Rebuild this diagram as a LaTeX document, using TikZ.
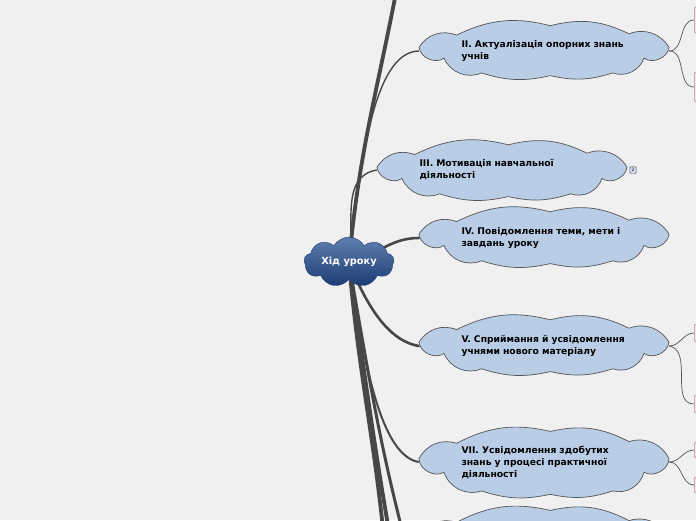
\documentclass[tikz,border=0pt]{standalone}
\usepackage{fontspec}
\setsansfont{DejaVu Sans}
\usepackage{tikz}
\usetikzlibrary{positioning, shapes.symbols, shapes.geometric, calc}
\usepackage{xcolor}

\definecolor{bggray}{HTML}{F0F0F0}
\definecolor{stageblue}{HTML}{B9CDE6}
\definecolor{edgegray}{HTML}{555555}
\definecolor{branchgray}{HTML}{474747}
\definecolor{hubtop}{HTML}{5F80AE}
\definecolor{hubbottom}{HTML}{1C3C74}
\definecolor{notefill}{HTML}{F6E7EB}
\definecolor{noteedge}{HTML}{B58896}

\tikzset{
  cloudline/.style={draw=edgegray, fill=stageblue, line width=0.7pt},
  pics/puffs/.style 2 args={code={
    \path[cloudline] (-#1,-0.1*#2) to[bend left=40] (-0.7*#1,-0.55*#2)
      to[bend left=20] (0.05*#1,-0.9*#2) to[bend left=20] (0.68*#1,-0.6*#2)
      to[bend left=40] (#1,-0.1*#2) to[bend left=60] (0.8*#1,0.3*#2)
      to[bend left=45] (0.55*#1,0.85*#2) to[bend left=15] (0.05*#1,0.95*#2)
      to[bend left=15] (-0.5*#1,0.85*#2) to[bend left=45] (-0.8*#1,0.3*#2)
      to[bend left=60] cycle;
  }},
  stage/.style={minimum width=250pt, inner sep=0pt, text width=165pt, align=left,
    font=\sffamily\bfseries\fontsize{9.2}{12}\selectfont},
  hub/.style={cloud, cloud puffs=9, cloud puff arc=120, cloud ignores aspect,
    draw=hubbottom, top color=hubtop, bottom color=hubbottom, text=white,
    minimum width=90pt, minimum height=50pt, inner sep=0pt,
    font=\sffamily\bfseries\fontsize{9.8}{11}\selectfont},
  note/.style={draw=noteedge, fill=notefill, rounded corners=2pt, line width=0.6pt,
    minimum width=40pt},
  badge/.style={draw=edgegray, fill=stageblue!70!white, rounded corners=1.5pt,
    inner sep=0.8pt, font=\sffamily\fontsize{4.5}{5}\selectfont, minimum size=7pt},
  mainline/.style={draw=branchgray, line width=3.8pt, line cap=round},
  subline/.style={draw=branchgray, line width=1.4pt},
  leafline/.style={draw=edgegray, line width=0.7pt},
}

\begin{document}
\begin{tikzpicture}[x=1pt, y=-1pt]
  \useasboundingbox (0,0) rectangle (696,520);
  \clip (0,0) rectangle (696,520);
  \fill[bggray] (0,0) rectangle (696,520);

  % off-page ends of the long branches
  \coordinate (stagei) at (402,-40);
  \coordinate (stagevi) at (386,560);
  \coordinate (stageviii) at (394,560);
  \coordinate (stageix) at (410,560);

  % clouds of the stages
  \pic at (544,50) {puffs={125}{27}};
  \pic at (502,170) {puffs={125}{28}};
  \pic at (544,237) {puffs={125}{28}};
  \pic at (544,345) {puffs={125}{28}};
  \pic at (544,462) {puffs={125}{34}};
  \pic at (544,541) {puffs={125}{34}};

  \node[stage, minimum height=54pt] (ii) at (544,51) {II. Актуалізація опорних знань учнів};
  \node[stage, minimum height=56pt] (iii) at (502,170) {III. Мотивація навчальної діяльності};
  \node[badge] (iiicount) at (633,170) {2};
  \node[stage, minimum height=56pt] (iv) at (544,238) {IV. Повідомлення теми, мети і завдань уроку};
  \node[stage, minimum height=56pt] (v) at (544,346) {V. Сприймання й усвідомлення учнями нового матеріалу};
  \node[stage, minimum height=68pt] (vii) at (544,462) {VII. Усвідомлення здобутих знань у процесі практичної діяльності};
  \node[stage, minimum height=68pt] (viii) at (544,541) {};

  % branches from the centre
  \coordinate (hubc) at (349,263);
  \draw[mainline] (hubc) to[out=85, in=-100] (stagei);
  \draw[subline] (hubc) .. controls (362,140) and (378,52) .. (ii.west);
  \draw[subline] (hubc) to[out=80, in=190] (iii.west);
  \draw[mainline, line width=2.6pt] (hubc) to[out=15, in=180] (iv.west);
  \draw[mainline, line width=2.6pt] (hubc) .. controls (365,300) and (385,340) .. (v.west);
  \draw[subline, line width=2pt] (hubc) .. controls (360,330) and (375,455) .. (vii.west);
  \draw[mainline] (hubc) to[out=-85, in=95] (stagevi);
  \draw[mainline] (hubc) to[out=-82, in=100] (stageviii);
  \draw[mainline, line width=3pt] (hubc) to[out=-80, in=105] (stageix);

  \node[hub] (hub) at (349,262) {Хід уроку};

  % notes on the right edge
  \node[note, minimum height=26pt, anchor=west] (iia) at (694,20) {};
  \node[note, minimum height=30pt, anchor=west] (iib) at (694,87) {};
  \node[note, minimum height=18pt, anchor=west] (va) at (694,333) {};
  \node[note, minimum height=18pt, anchor=west] (vb) at (694,404) {};
  \node[note, minimum height=16pt, anchor=west] (viia) at (694,450) {};
  \node[note, minimum height=16pt, anchor=west] (viib) at (694,485) {};

  \draw[leafline] (ii.east) to[out=0, in=180] (iia.west);
  \draw[leafline] (ii.east) to[out=0, in=180] (iib.west);
  \draw[leafline] (v.east) to[out=0, in=180] (va.west);
  \draw[leafline] (v.east) to[out=-10, in=180] (vb.west);
  \draw[leafline] (vii.east) to[out=0, in=180] (viia.west);
  \draw[leafline] (vii.east) to[out=0, in=180] (viib.west);
\end{tikzpicture}
\end{document}
